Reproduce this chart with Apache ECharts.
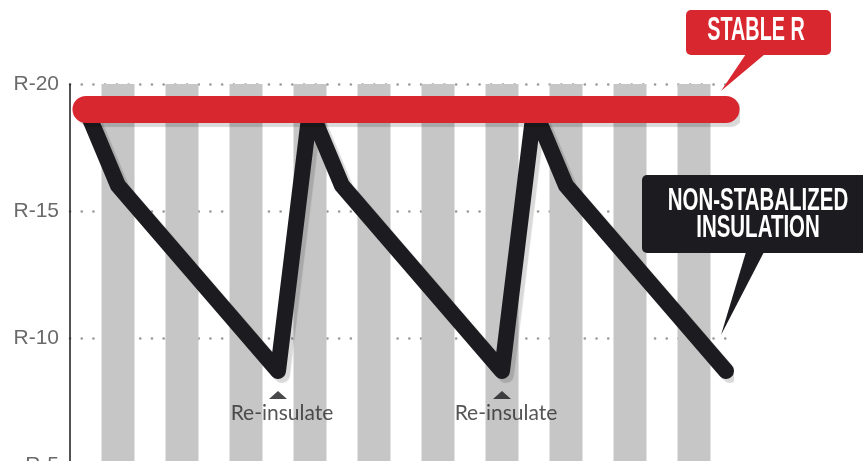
<!DOCTYPE html>
<html>
<head>
<meta charset="utf-8">
<script src="https://cdn.jsdelivr.net/npm/echarts@6/dist/echarts.min.js"></script>
<style>
html,body{margin:0;padding:0;background:#fff;}
#chart{width:863px;height:461px;}
</style>
</head>
<body>
<div id="chart"></div>
<script>
// ---- data ----
var yTicks = [5, 10, 15, 20];
var stripePositions = [1, 3, 5, 7, 9, 11, 13, 15, 17, 19];
var stripeTop = 20;
var stableX = [0, 20];
var stableR = [19, 19];
var insulX = [0, 1, 6, 7, 8, 13, 14, 15, 20];
var insulR = [19, 16, 8.7, 19, 16, 8.7, 19, 16, 8.7];
var reinsulateIdx = [2, 5];
var reinsulateLabel = 'Re-insulate';
var stableLabel = 'STABLE R';
var nonStableLabel = ['NON-STABALIZED', 'INSULATION'];

var stripeData = stripePositions.map(function (x) { return [x, stripeTop]; });
var stableData = stableX.map(function (x, i) { return [x, stableR[i]]; });
var insulData = insulX.map(function (x, i) { return [x, insulR[i]]; });
var reinsData = reinsulateIdx.map(function (i) { return [insulX[i], insulR[i]]; });

var BLACK = '#1c1b1f';
var RED = '#d9272f';
var calloutFont = 'bold 32px "Liberation Sans", Arial, sans-serif';

var chart = echarts.init(document.getElementById('chart'), null, {renderer: 'canvas'});
chart.setOption({
  animation: false,
  backgroundColor: '#ffffff',
  grid: {left: 70, top: 84, right: 137, height: 381, containLabel: false, outerBoundsMode: 'none'},
  xAxis: {
    type: 'value', min: -0.5, max: 20, show: false,
    splitLine: {show: false}
  },
  yAxis: {
    type: 'value', min: yTicks[0], max: yTicks[yTicks.length - 1], interval: 5,
    axisLine: {show: true, onZero: false, lineStyle: {color: '#1a1a1a', width: 1.5}},
    axisTick: {show: false},
    axisLabel: {
      formatter: function (v) { return 'R-' + v; },
      color: '#6a6a6a', fontSize: 21, fontFamily: '"Liberation Sans", Arial, sans-serif',
      margin: 11
    },
    splitLine: {show: true, lineStyle: {color: '#9a9a9a', width: 2.6, type: [0.1, 11.6], cap: 'round'}}
  },
  series: [
    {
      type: 'bar', data: stripeData, barWidth: 33, z: 1,
      itemStyle: {color: '#c6c6c6'}, silent: true
    },
    {
      type: 'line', data: insulData, symbol: 'none', z: 3,
      lineStyle: {
        color: BLACK, width: 16, cap: 'round', join: 'round',
        shadowColor: 'rgba(0,0,0,0.15)', shadowBlur: 1, shadowOffsetX: 4, shadowOffsetY: 4
      }
    },
    {
      type: 'line', data: stableData, symbol: 'none', z: 4,
      lineStyle: {
        color: RED, width: 27, cap: 'round',
        shadowColor: 'rgba(0,0,0,0.15)', shadowBlur: 1, shadowOffsetX: 4, shadowOffsetY: 4
      }
    },
    {
      type: 'scatter', data: reinsData, z: 5,
      symbol: 'triangle', symbolSize: [18, 8], symbolOffset: [0, 24],
      itemStyle: {color: BLACK},
      label: {
        show: true, position: 'bottom', distance: 4, offset: [4, 0],
        formatter: function () { return reinsulateLabel; },
        color: '#2a2a2a', fontSize: 21, fontFamily: 'Lato, "Open Sans", sans-serif'
      }
    }
  ],
  graphic: [
    {type: 'rect', shape: {x: 686, y: 10, width: 145, height: 45, r: 5}, style: {fill: RED}, z: 10},
    {type: 'polygon', shape: {points: [[746, 54], [765, 54], [721, 91]]}, style: {fill: RED}, z: 10},
    {type: 'text', x: 756, y: 31, scaleX: 0.6, z: 11,
      style: {text: stableLabel, fill: '#fff', font: 'bold 33px "Liberation Sans", Arial, sans-serif', align: 'center', verticalAlign: 'middle'}},
    {type: 'rect', shape: {x: 642, y: 175, width: 240, height: 78, r: 5}, style: {fill: BLACK}, z: 10},
    {type: 'polygon', shape: {points: [[746, 252], [764, 252], [721, 335]]}, style: {fill: BLACK}, z: 10},
    {type: 'text', x: 758, y: 201, scaleX: 0.64, z: 11,
      style: {text: nonStableLabel[0], fill: '#fff', font: calloutFont, align: 'center', verticalAlign: 'middle'}},
    {type: 'text', x: 758, y: 228, scaleX: 0.64, z: 11,
      style: {text: nonStableLabel[1], fill: '#fff', font: calloutFont, align: 'center', verticalAlign: 'middle'}}
  ]
});
</script>
</body>
</html>
